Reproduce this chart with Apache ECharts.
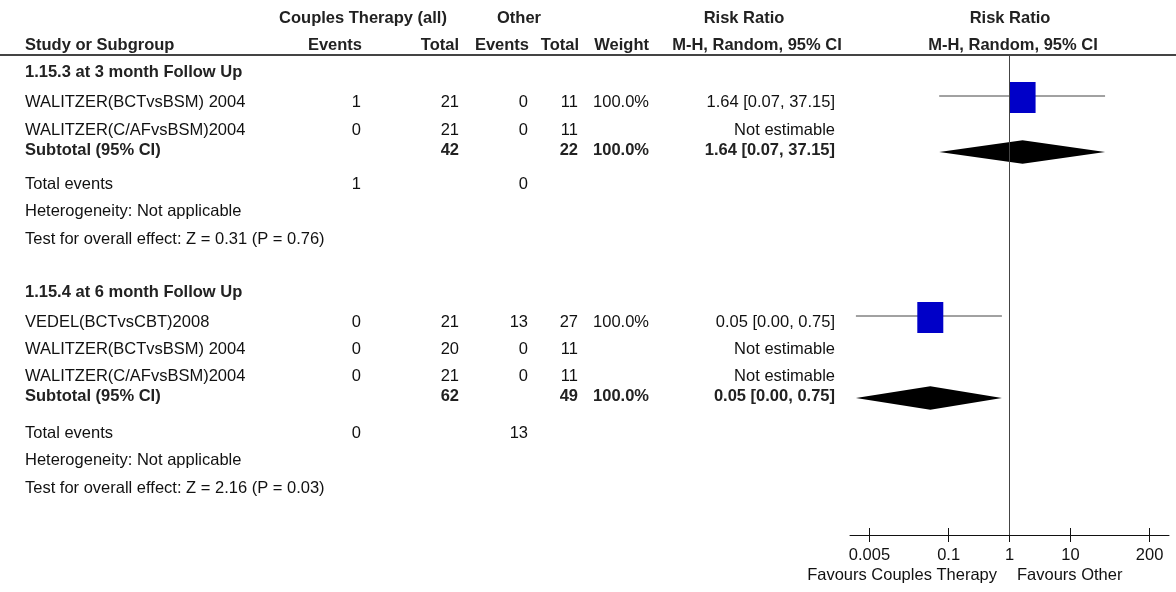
<!DOCTYPE html>
<html>
<head>
<meta charset="utf-8">
<script src="https://cdn.jsdelivr.net/npm/echarts@6/dist/echarts.min.js"></script>
<style>html,body{margin:0;padding:0;background:#fff;}#c{width:1176px;height:592px;}</style>
</head>
<body>
<div id="c"></div>
<script>
// ---------------- data ----------------
const groupTitles = ['1.15.3 at 3 month Follow Up', '1.15.4 at 6 month Follow Up'];
const studyGroup = [0, 0, 1, 1, 1];
const studyNames = ['WALITZER(BCTvsBSM) 2004', 'WALITZER(C/AFvsBSM)2004', 'VEDEL(BCTvsCBT)2008', 'WALITZER(BCTvsBSM) 2004', 'WALITZER(C/AFvsBSM)2004'];
const ctEvents = [1, 0, 0, 0, 0];
const ctTotal = [21, 21, 21, 20, 21];
const otherEvents = [0, 0, 13, 0, 0];
const otherTotal = [11, 11, 27, 11, 11];
const studyWeight = ['100.0%', '', '100.0%', '', ''];
const studyRR = [1.64, null, 0.05, null, null];
const studyLo = [0.07, null, 0.003, null, null];
const studyHi = [37.15, null, 0.75, null, null];
const studyRRText = ['1.64 [0.07, 37.15]', 'Not estimable', '0.05 [0.00, 0.75]', 'Not estimable', 'Not estimable'];

const subCtTotal = [42, 62];
const subOtherTotal = [22, 49];
const subWeight = ['100.0%', '100.0%'];
const subRR = [1.64, 0.05];
const subLo = [0.07, 0.003];
const subHi = [37.15, 0.75];
const subRRText = ['1.64 [0.07, 37.15]', '0.05 [0.00, 0.75]'];
const totCtEvents = [1, 0];
const totOtherEvents = [0, 13];
const heterogeneity = ['Not applicable', 'Not applicable'];
const overallTest = ['Z = 0.31 (P = 0.76)', 'Z = 2.16 (P = 0.03)'];

const tickValues = [0.005, 0.1, 1, 10, 200];
const tickLabels = ['0.005', '0.1', '1', '10', '200'];
const favoursLeft = 'Favours Couples Therapy';
const favoursRight = 'Favours Other';

// ---------------- layout ----------------
const FONT = 'Arial, "Liberation Sans", Helvetica, sans-serif';
const FS = 16.5;
const COL = { name: 25, ctEv: 361, ctTot: 459, oEv: 528, oTot: 578, wt: 649, rr: 835 };
const groupRows = [
  { title: 72, studies: [102, 130], sub: 150, tot: 184, het: 211, test: 239 },
  { title: 292, studies: [322, 349, 376], sub: 396, tot: 433, het: 460, test: 488 }
];
const STUDY_MARK_DY = -6;   // whisker sits a little above text centre
const SUB_MARK_DY = 2;      // diamond sits a little below text centre
const PLOT = { left: 850, right: 1169, top: 55, bottom: 535 };
const AX_MIN = -2.62, AX_MAX = 2.62;

// build text cells
const cells = [];
function cell(x, y, text, align, bold) { cells.push({ x, y, text: String(text), align, bold: !!bold }); }
// headers
cell(363, 18, 'Couples Therapy (all)', 'center', 1);
cell(519, 18, 'Other', 'center', 1);
cell(744, 18, 'Risk Ratio', 'center', 1);
cell(1010, 18, 'Risk Ratio', 'center', 1);
cell(COL.name, 45, 'Study or Subgroup', 'left', 1);
cell(362, 45, 'Events', 'right', 1);
cell(COL.ctTot, 45, 'Total', 'right', 1);
cell(529, 45, 'Events', 'right', 1);
cell(579, 45, 'Total', 'right', 1);
cell(COL.wt, 45, 'Weight', 'right', 1);
cell(757, 45, 'M-H, Random, 95% CI', 'center', 1);
cell(1013, 45, 'M-H, Random, 95% CI', 'center', 1);

const studyY = [];
const subY = [];
groupTitles.forEach((g, gi) => {
  const R = groupRows[gi];
  cell(COL.name, R.title, g, 'left', 1);
  let k = 0;
  studyNames.forEach((n, i) => {
    if (studyGroup[i] !== gi) return;
    const y = R.studies[k++];
    studyY[i] = y + STUDY_MARK_DY;
    cell(COL.name, y, n, 'left');
    cell(COL.ctEv, y, ctEvents[i], 'right');
    cell(COL.ctTot, y, ctTotal[i], 'right');
    cell(COL.oEv, y, otherEvents[i], 'right');
    cell(COL.oTot, y, otherTotal[i], 'right');
    if (studyWeight[i]) cell(COL.wt, y, studyWeight[i], 'right');
    cell(COL.rr, y, studyRRText[i], 'right');
  });
  subY[gi] = R.sub + SUB_MARK_DY;
  cell(COL.name, R.sub, 'Subtotal (95% CI)', 'left', 1);
  cell(COL.ctTot, R.sub, subCtTotal[gi], 'right', 1);
  cell(COL.oTot, R.sub, subOtherTotal[gi], 'right', 1);
  cell(COL.wt, R.sub, subWeight[gi], 'right', 1);
  cell(COL.rr, R.sub, subRRText[gi], 'right', 1);
  cell(COL.name, R.tot, 'Total events', 'left');
  cell(COL.ctEv, R.tot, totCtEvents[gi], 'right');
  cell(COL.oEv, R.tot, totOtherEvents[gi], 'right');
  cell(COL.name, R.het, 'Heterogeneity: ' + heterogeneity[gi], 'left');
  cell(COL.name, R.test, 'Test for overall effect: ' + overallTest[gi], 'left');
});

const lg = v => Math.log10(v);
const studyMarks = [];
studyRR.forEach((v, i) => { if (v != null) studyMarks.push([lg(v), studyY[i], lg(studyLo[i]), lg(studyHi[i])]); });
const subMarks = subRR.map((v, gi) => [lg(v), subY[gi], lg(subLo[gi]), lg(subHi[gi])]);
const tickLog = tickValues.map(lg);

function tickLabelFor(v) {
  let best = 0;
  tickLog.forEach((t, i) => { if (Math.abs(t - v) < Math.abs(tickLog[best] - v)) best = i; });
  return tickLabels[best];
}

const chart = echarts.init(document.getElementById('c'), null, { renderer: 'canvas' });
chart.setOption({
  animation: false,
  backgroundColor: '#fff',
  grid: [
    { left: PLOT.left, top: PLOT.top, width: PLOT.right - PLOT.left, height: PLOT.bottom - PLOT.top },
    { left: 0, top: 0, width: 1176, height: 592 }
  ],
  xAxis: [
    {
      gridIndex: 0, type: 'value', min: AX_MIN, max: AX_MAX, position: 'bottom',
      axisLine: { show: true, lineStyle: { color: '#111', width: 1 } },
      axisTick: { show: true, customValues: tickLog, length: 7, lineStyle: { color: '#111' } },
      axisLabel: { show: true, customValues: tickLog, formatter: tickLabelFor, margin: 12, color: '#111', fontSize: FS, fontFamily: FONT },
      splitLine: { show: false }
    },
    {
      gridIndex: 0, type: 'value', min: AX_MIN, max: AX_MAX, position: 'bottom',
      axisLine: { show: false },
      axisTick: { show: true, inside: true, customValues: tickLog, length: 7, lineStyle: { color: '#111' } },
      axisLabel: { show: false }, splitLine: { show: false }
    },
    { gridIndex: 1, type: 'value', min: 0, max: 1176, show: false }
  ],
  yAxis: [
    { gridIndex: 0, type: 'value', min: PLOT.top, max: PLOT.bottom, inverse: true, show: false },
    { gridIndex: 1, type: 'value', min: 0, max: 592, inverse: true, show: false }
  ],
  series: [
    { // line of no effect
      type: 'line', xAxisIndex: 0, yAxisIndex: 0, symbol: 'none', silent: true,
      data: [[0, PLOT.top], [0, PLOT.bottom]],
      lineStyle: { color: '#444', width: 1 }
    },
    { // study whiskers + squares
      type: 'custom', xAxisIndex: 0, yAxisIndex: 0, clip: false,
      data: studyMarks,
      renderItem: (params, api) => {
        const c = api.coord([api.value(0), api.value(1)]);
        const lo = api.coord([api.value(2), api.value(1)]);
        const hi = api.coord([api.value(3), api.value(1)]);
        const w = 26, h = 31;
        return { type: 'group', children: [
          { type: 'line', shape: { x1: lo[0], y1: lo[1], x2: hi[0], y2: hi[1] }, style: { stroke: '#444', lineWidth: 1 } },
          { type: 'rect', shape: { x: c[0] - w / 2, y: c[1] - 14, width: w, height: h }, style: { fill: '#0000c8' } }
        ] };
      }
    },
    { // subtotal diamonds
      type: 'custom', xAxisIndex: 0, yAxisIndex: 0, clip: false,
      data: subMarks,
      renderItem: (params, api) => {
        const c = api.coord([api.value(0), api.value(1)]);
        const lo = api.coord([api.value(2), api.value(1)]);
        const hi = api.coord([api.value(3), api.value(1)]);
        const hh = 11.8;
        return { type: 'polygon', shape: { points: [[lo[0], c[1]], [c[0], c[1] - hh], [hi[0], c[1]], [c[0], c[1] + hh]] }, style: { fill: '#000' } };
      }
    },
    { // table text
      type: 'custom', xAxisIndex: 2, yAxisIndex: 1, clip: false, silent: true,
      data: cells.map(c => [c.x, c.y]),
      renderItem: (params, api) => {
        const p = api.coord([api.value(0), api.value(1)]);
        const c = cells[params.dataIndex];
        return { type: 'text', x: p[0], y: p[1], style: {
          text: c.text, fill: c.bold ? '#222' : '#111', font: (c.bold ? 'bold ' : '') + FS + 'px ' + FONT,
          align: c.align, verticalAlign: 'middle', textAlign: c.align, textVerticalAlign: 'middle'
        } };
      }
    }
  ],
  graphic: [
    { type: 'line', shape: { x1: 0, y1: 55, x2: 1176, y2: 55 }, style: { stroke: '#444', lineWidth: 2 } },
    { type: 'text', x: 997, y: 575, style: { text: favoursLeft, fill: '#111', font: FS + 'px ' + FONT, align: 'right', verticalAlign: 'middle' } },
    { type: 'text', x: 1017, y: 575, style: { text: favoursRight, fill: '#111', font: FS + 'px ' + FONT, align: 'left', verticalAlign: 'middle' } }
  ]
});
</script>
</body>
</html>
